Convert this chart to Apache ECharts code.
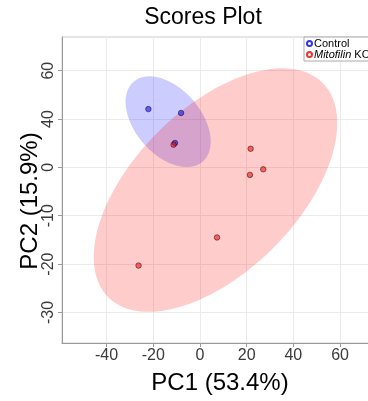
<!DOCTYPE html>
<html><head><meta charset="utf-8">
<script src="https://cdn.jsdelivr.net/npm/echarts@6/dist/echarts.min.js"></script>
<style>html,body{margin:0;padding:0;background:#fff}#c{width:368px;height:401px}</style>
</head><body><div id="c"></div>
<script>
// ---- data ----
const groupNames = ['Control', 'Mitofilin KO'];
const controlPC1 = [-22.1, -8.1, -10.7];
const controlPC2 = [24.1, 22.5, 10.1];
const koPC1 = [-11.3, 21.7, 27.1, 21.4, 7.3, -26.3];
const koPC2 = [9.4, 7.7, -0.8, -3.1, -29.0, -40.6];
const xTickValues = [-40, -20, 0, 20, 40, 60];
const xTickLabels = ['-40', '-20', '0', '20', '40', '60'];
const yTickValues = [40, 20, 0, -20, -40, -60];
const yTickLabels = ['60', '40', '0', '-10', '-20', '-30'];
const chi2Level95 = 5.991; // 95% confidence region, 2 df

// ---- helpers ----
function zip(a, b) { return a.map((v, i) => [v, b[i]]); }
function confEllipse(xs, ys, steps) {
  const n = xs.length;
  const mx = xs.reduce((s, v) => s + v, 0) / n;
  const my = ys.reduce((s, v) => s + v, 0) / n;
  let sxx = 0, syy = 0, sxy = 0;
  for (let i = 0; i < n; i++) {
    sxx += (xs[i] - mx) ** 2; syy += (ys[i] - my) ** 2; sxy += (xs[i] - mx) * (ys[i] - my);
  }
  sxx = sxx / (n - 1) * chi2Level95; syy = syy / (n - 1) * chi2Level95; sxy = sxy / (n - 1) * chi2Level95;
  const l11 = Math.sqrt(sxx), l21 = sxy / l11, l22 = Math.sqrt(Math.max(syy - l21 * l21, 0));
  const pts = [];
  for (let k = 0; k < steps; k++) {
    const t = 2 * Math.PI * k / steps;
    pts.push([mx + l11 * Math.cos(t), my + l21 * Math.cos(t) + l22 * Math.sin(t)]);
  }
  return pts;
}
function mapLabel(values, labels) {
  return v => { const i = values.findIndex(t => Math.abs(t - v) < 1e-6); return i >= 0 ? labels[i] : ''; };
}
function ellipseSeries(xs, ys, fill, z) {
  const outline = confEllipse(xs, ys, 180);
  return {
    type: 'custom', silent: true, z: z, clip: true,
    data: [[xs[0], ys[0]]],
    renderItem: (params, api) => ({
      type: 'polygon',
      shape: { points: outline.map(p => api.coord(p)) },
      style: { fill: fill, stroke: null }
    })
  };
}

const FONT = '"Liberation Sans", Arial, Helvetica, sans-serif';
const chart = echarts.init(document.getElementById('c'), null, { renderer: 'canvas' });
chart.setOption({
  animation: false,
  backgroundColor: '#fff',
  grid: { left: 62, right: -1, top: 37, bottom: 58, show: true, borderColor: '#cccccc', borderWidth: 1, backgroundColor: 'transparent', outerBoundsMode: 'none' },
  xAxis: {
    type: 'value', min: -59.1, max: 72.4, splitNumber: 6, minInterval: 20, maxInterval: 20,
    axisLine: { show: true, onZero: false, lineStyle: { color: '#999999', width: 1 } },
    axisTick: { show: true, inside: false, length: 4, customValues: xTickValues, lineStyle: { color: '#999999' } },
    axisLabel: { customValues: xTickValues, formatter: mapLabel(xTickValues, xTickLabels), color: '#3a3a3a', fontSize: 16, fontFamily: FONT, margin: 5 },
    splitLine: { show: true, lineStyle: { color: '#ebebeb', width: 1 } }
  },
  yAxis: {
    type: 'value', min: -72.64, max: 53.93, splitNumber: 6, minInterval: 20, maxInterval: 20,
    axisLine: { show: true, onZero: false, lineStyle: { color: '#999999', width: 1 } },
    axisTick: { show: true, inside: false, length: 4, customValues: yTickValues, lineStyle: { color: '#999999' } },
    axisLabel: { customValues: yTickValues, formatter: mapLabel(yTickValues, yTickLabels), rotate: 90, color: '#3a3a3a', fontSize: 16, fontFamily: FONT, margin: 5 },
    splitLine: { show: true, lineStyle: { color: '#ebebeb', width: 1 } }
  },
  legend: {
    orient: 'vertical', left: 304, top: 37, itemGap: 0, itemWidth: 5, itemHeight: 5,
    padding: [1, 3, 1, 2], borderColor: '#aaaaaa', borderWidth: 1, backgroundColor: '#ffffff',
    selectedMode: false,
    data: [
      { name: groupNames[0], icon: 'emptyCircle', itemStyle: { color: '#3333ee' } },
      { name: groupNames[1], icon: 'emptyCircle', itemStyle: { color: '#ee3333' } }
    ],
    formatter: name => name === 'Mitofilin KO' ? '{i|Mitofilin} KO' : name,
    textStyle: { fontSize: 11, fontFamily: FONT, color: '#000', lineHeight: 9, padding: [0, 0, 0, -3],
      rich: { i: { fontStyle: 'italic', fontSize: 11, fontFamily: FONT, color: '#000', lineHeight: 9 } } }
  },
  graphic: [
    { type: 'text', x: 203, y: 18, style: { text: 'Scores Plot', font: '23px ' + FONT, fill: '#000', textAlign: 'center', textVerticalAlign: 'middle' } },
    { type: 'text', x: 220, y: 383, style: { text: 'PC1 (53.4%)', font: '24px ' + FONT, fill: '#000', textAlign: 'center', textVerticalAlign: 'middle' } },
    { type: 'text', x: 30, y: 201, rotation: Math.PI / 2, style: { text: 'PC2 (15.9%)', font: '24px ' + FONT, fill: '#000', textAlign: 'center', textVerticalAlign: 'middle' } }
  ],
  series: [
    ellipseSeries(controlPC1, controlPC2, 'rgba(0,0,255,0.2)', 1),
    ellipseSeries(koPC1, koPC2, 'rgba(255,0,0,0.2)', 2),
    {
      name: groupNames[0], type: 'scatter', z: 5, symbol: 'circle', symbolSize: 5.5,
      data: zip(controlPC1, controlPC2),
      itemStyle: { color: 'rgba(0,0,255,0.55)', borderColor: 'rgba(0,0,0,0.6)', borderWidth: 0.8, opacity: 1 }
    },
    {
      name: groupNames[1], type: 'scatter', z: 6, symbol: 'circle', symbolSize: 5.5,
      data: zip(koPC1, koPC2),
      itemStyle: { color: 'rgba(255,0,0,0.55)', borderColor: 'rgba(0,0,0,0.6)', borderWidth: 0.8, opacity: 1 }
    }
  ]
});
</script></body></html>
